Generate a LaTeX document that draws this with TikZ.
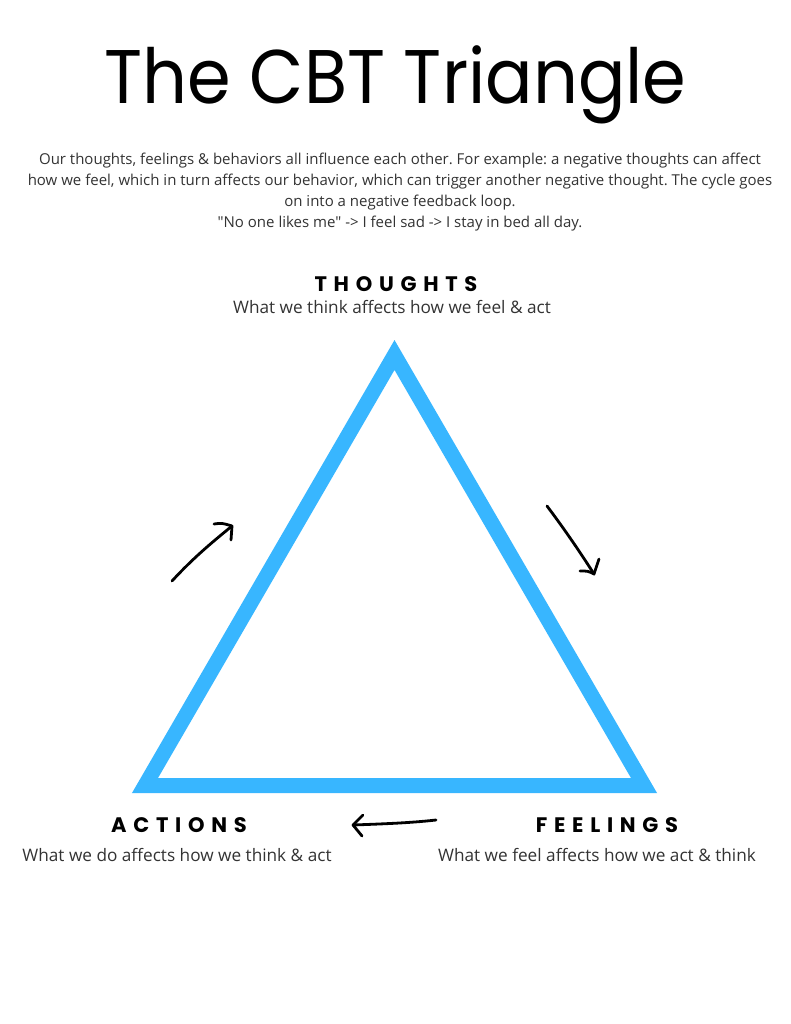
\documentclass[tikz,border=0pt]{standalone}
\usepackage{fontspec}
\setmainfont{Open Sans}
\newfontfamily\titlefont[FakeStretch=0.925]{Poppins}
\newfontfamily\headfont[LetterSpace=32]{Poppins}
\newfontfamily\bodyfont{Open Sans}
\definecolor{cbtblue}{HTML}{38B6FF}
\definecolor{txtgray}{HTML}{333333}
\frenchspacing
\begin{document}
\begin{tikzpicture}[x=1pt,y=-1pt,
  titletext/.style={anchor=base,inner sep=0pt,font=\titlefont\fontsize{76}{76}\selectfont},
  paraline/.style={anchor=base,inner sep=0pt,text=txtgray,font=\bodyfont\fontsize{15}{15}\selectfont},
  headtext/.style={anchor=base,inner sep=0pt,font=\headfont\bfseries\fontsize{21}{21}\selectfont},
  subtext/.style={anchor=base,inner sep=0pt,text=txtgray,font=\fontsize{17.2}{17.2}\selectfont},
  handarrow/.style={line width=2.8pt,line cap=round,line join=round,black},
  tri/.style={draw=cbtblue,line width=15pt,line join=miter}]
\useasboundingbox (0,0) rectangle (791,1024);
\fill[white] (0,0) rectangle (791,1024);
\node[titletext] (title) at (395.5,104) {The CBT Triangle};
\node[paraline] (p1) at (400,165) {Our thoughts, feelings \& behaviors all influence each other. For example: a negative thoughts can affect};
\node[paraline] (p2) at (400,186) {how we feel, which in turn affects our behavior, which can trigger another negative thought. The cycle goes};
\node[paraline] (p3) at (400,207) {on into a negative feedback loop.};
\node[paraline] (p4) at (400,228) {"No one likes me" -> I feel sad -> I stay in bed all day.};
\node[headtext] (thoughts) at (396,291) {THOUGHTS};
\node[subtext] (thoughtssub) at (392,313) {What we think affects how we feel \& act};
\node[headtext] (actions) at (179,832) {ACTIONS};
\node[subtext] (actionssub) at (177,861) {What we do affects how we think \& act};
\node[headtext] (feelings) at (607,832) {FEELINGS};
\node[subtext] (feelingssub) at (597,861) {What we feel affects how we act \& think};
\coordinate (apex) at (394.5,355);
\coordinate (bl) at (145,785.5);
\coordinate (br) at (644,785.5);
\draw[tri] (apex) -- (br) -- (bl) -- cycle;
\coordinate (a1s) at (172,581);
\coordinate (a1e) at (232,526);
\draw[handarrow] (a1s) .. controls (195,556) and (215,540) .. (a1e);
\draw[handarrow] (214,524) .. controls (222,523) .. (a1e) -- (231,540);
\coordinate (a2s) at (547,506);
\coordinate (a2e) at (594,574);
\draw[handarrow] (a2s) .. controls (565,530) and (580,552) .. (a2e);
\draw[handarrow] (599,559) -- (a2e) .. controls (588,571) .. (580,571);
\coordinate (a3s) at (436,820);
\coordinate (a3e) at (353,825);
\draw[handarrow] (a3s) .. controls (410,823) and (380,824) .. (a3e);
\draw[handarrow] (363,815) -- (a3e) -- (362,836);
\end{tikzpicture}
\end{document}
